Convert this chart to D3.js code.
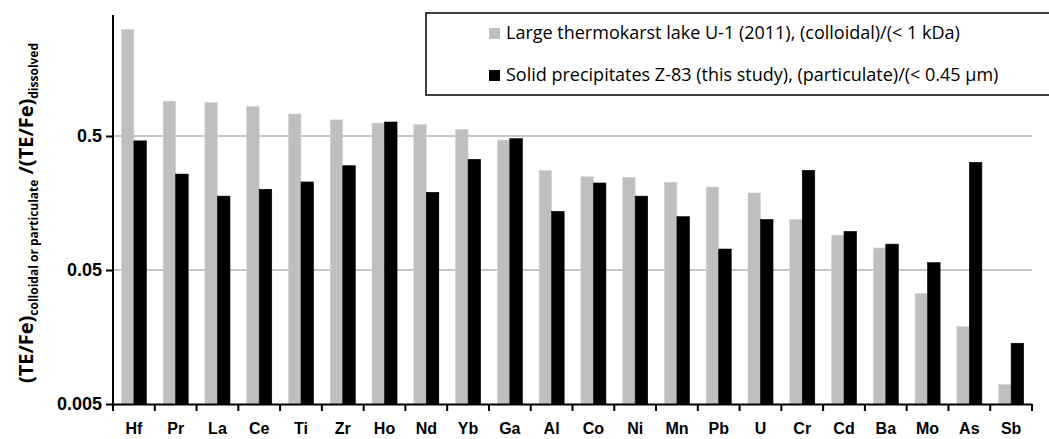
<!DOCTYPE html>
<html>
<head>
<meta charset="utf-8">
<script src="https://cdn.jsdelivr.net/npm/d3@7"></script>
<style>
  body { margin: 0; background: #fff; }
  svg { font-family: "Open Sans", "Liberation Sans", sans-serif; }
</style>
</head>
<body>
<svg id="chart" width="1049" height="439"></svg>
<script>
const elements = ["Hf", "Pr", "La", "Ce", "Ti", "Zr", "Ho", "Nd", "Yb", "Ga", "Al",
                  "Co", "Ni", "Mn", "Pb", "U", "Cr", "Cd", "Ba", "Mo", "As", "Sb"];
const lakeValues = [3.13, 0.91, 0.89, 0.83, 0.73, 0.66, 0.625, 0.61, 0.56, 0.467, 0.277,
                    0.249, 0.246, 0.226, 0.208, 0.188, 0.119, 0.091, 0.073, 0.0335, 0.0189, 0.0070];
const precipValues = [0.46, 0.26, 0.178, 0.20, 0.227, 0.30, 0.636, 0.19, 0.335, 0.478, 0.137,
                      0.223, 0.178, 0.125, 0.0717, 0.119, 0.277, 0.097, 0.078, 0.0567, 0.318, 0.0142];
const seriesNames = ["Large thermokarst lake U-1 (2011), (colloidal)/(< 1 kDa)",
                     "Solid precipitates Z-83 (this study), (particulate)/(< 0.45 µm)"];
const yTicks = [0.005, 0.05, 0.5];

const svg = d3.select("#chart");
const plotLeft = 113, plotRight = 1032, plotTop = 15, plotBottom = 404;
const colors = ["#bfbfbf", "#000000"];

const x = d3.scaleBand().domain(elements).range([plotLeft, plotRight])
    .paddingInner(0.4).paddingOuter(0.2);
const x1 = d3.scaleBand().domain([0, 1]).range([0, x.bandwidth()]);
const y = d3.scaleLog().domain([0.005, 4]).range([plotBottom, plotTop]);

// gridlines
svg.append("g").selectAll("line")
    .data(yTicks.slice(1))
    .enter().append("line")
    .attr("x1", plotLeft).attr("x2", plotRight)
    .attr("y1", d => y(d)).attr("y2", d => y(d))
    .attr("stroke", "#b3b3b3").attr("stroke-width", 1.5);

// bars
const groups = svg.append("g").selectAll("g")
    .data(elements)
    .enter().append("g")
    .attr("transform", d => `translate(${x(d)},0)`);

groups.selectAll("rect")
    .data((d, i) => [lakeValues[i], precipValues[i]])
    .enter().append("rect")
    .attr("x", (d, j) => x1(j))
    .attr("width", x1.bandwidth())
    .attr("y", d => y(d))
    .attr("height", d => plotBottom - y(d))
    .attr("fill", (d, j) => colors[j])
    .attr("stroke", (d, j) => j === 0 ? "#d6d6d6" : "#000")
    .attr("stroke-width", 0.6);

// y axis
const yAxis = d3.axisLeft(y).tickValues(yTicks).tickFormat(d3.format("")).tickSize(7).tickSizeOuter(0);
const gy = svg.append("g").attr("transform", `translate(${plotLeft},0)`).call(yAxis);
gy.select(".domain").attr("stroke-width", 2).attr("d", `M0,${plotTop}V${plotBottom}`);
gy.selectAll(".tick line").attr("stroke-width", 2);
gy.selectAll(".tick text")
    .attr("x", -11)
    .style("font-size", "18px").style("font-weight", "bold").attr("fill", "#000");

// x axis
const xAxis = d3.axisBottom(x).tickSize(0).tickSizeOuter(0);
const gx = svg.append("g").attr("transform", `translate(0,${plotBottom})`).call(xAxis);
gx.select(".domain").attr("stroke-width", 2);
gx.selectAll(".tick text")
    .attr("y", 19)
    .style("font-size", "16px").style("font-weight", "bold").attr("fill", "#000");
const boundaries = d3.range(elements.length + 1).map(i => plotLeft + i * x.step());
gx.selectAll(".bound")
    .data(boundaries)
    .enter().append("line")
    .attr("x1", d => d).attr("x2", d => d)
    .attr("y1", 0).attr("y2", 7)
    .attr("stroke", "#000").attr("stroke-width", 2);

// y axis title
const title = svg.append("text")
    .attr("transform", "translate(33,213) rotate(-90)")
    .attr("text-anchor", "middle")
    .style("font-weight", "bold").attr("fill", "#000");
title.append("tspan").text("(TE/Fe)").style("font-size", "20px");
title.append("tspan").text("colloidal or particulate").style("font-size", "12px").attr("dy", 5);
title.append("tspan").text(" /(TE/Fe)").style("font-size", "20px").attr("dy", -5);
title.append("tspan").text("dissolved").style("font-size", "12px").attr("dy", 5);

// legend
const legend = svg.append("g");
legend.append("rect")
    .attr("x", 426).attr("y", 13).attr("width", 640).attr("height", 82)
    .attr("fill", "#fff").attr("stroke", "#000").attr("stroke-width", 1.5);
const items = legend.selectAll(".item")
    .data(seriesNames)
    .enter().append("g")
    .attr("transform", (d, i) => `translate(489,${33 + i * 42})`);
items.append("rect")
    .attr("x", 0).attr("y", -5).attr("width", 11).attr("height", 11)
    .attr("fill", (d, i) => colors[i]);
items.append("text")
    .attr("x", 17).attr("dy", "0.35em")
    .style("font-size", "18px").attr("fill", "#000")
    .text(d => d);
</script>
</body>
</html>
